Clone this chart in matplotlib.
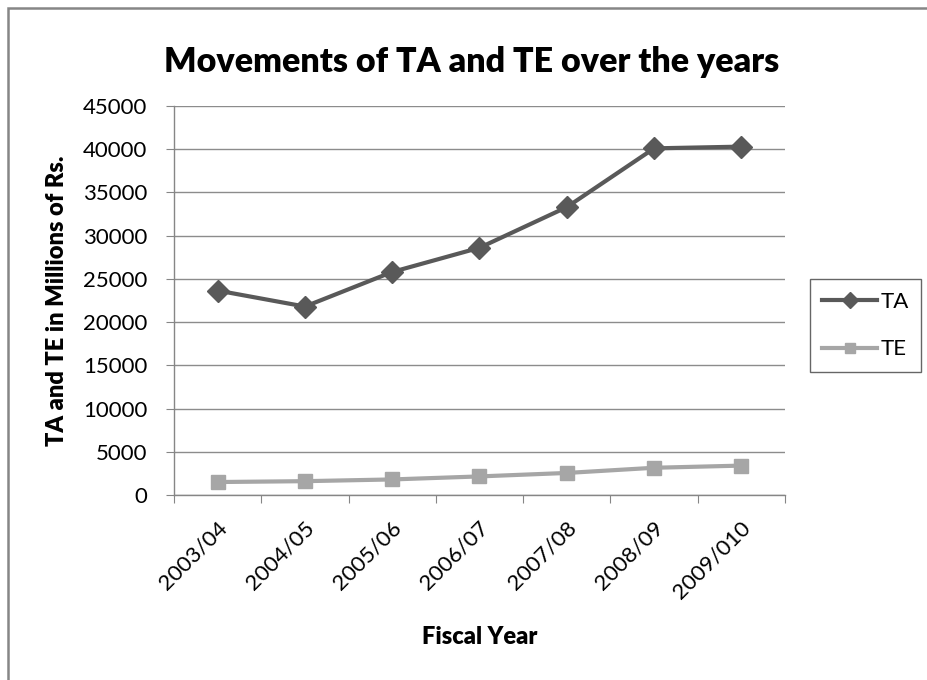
import matplotlib
matplotlib.use("Agg")
import matplotlib.pyplot as plt
from matplotlib.patches import Rectangle
from matplotlib.transforms import ScaledTranslation

# Fiscal-year totals, millions of Rs.
years = ["2003/04", "2004/05", "2005/06", "2006/07", "2007/08", "2008/09", "2009/010"]
ta_values = [23650, 21800, 25800, 28600, 33300, 40100, 40300]
te_values = [1500, 1600, 1800, 2150, 2550, 3150, 3400]
y_ticks = [0, 5000, 10000, 15000, 20000, 25000, 30000, 35000, 40000, 45000]

plt.rcParams["font.family"] = ["Lato", "DejaVu Sans"]

W, H = 928, 680
fig = plt.figure(figsize=(W / 100, H / 100), dpi=100)
fig.patch.set_facecolor("white")

# outer chart frame
fig.add_artist(Rectangle((7.5 / W, -0.05), 1.0, 1 - 7.5 / H + 0.05, transform=fig.transFigure,
                         fill=False, edgecolor="#868686", linewidth=1.8, clip_on=False))

ax = fig.add_axes([174 / W, 1 - 495 / H, (785 - 174) / W, (495 - 106) / H])

x = list(range(len(years)))
ax.plot(x, ta_values, color="#595959", linewidth=3.0, marker="D", markersize=11,
        label="TA", zorder=3)
ax.plot(x, te_values, color="#a6a6a6", linewidth=3.0, marker="s", markersize=9.5,
        label="TE", zorder=3)

ax.set_xlim(-0.5, len(years) - 0.5)
ax.set_ylim(0, 45000)
ax.set_yticks(y_ticks)
ax.set_yticklabels([str(v) for v in y_ticks], fontsize=16)
ax.yaxis.grid(True, color="#8c8c8c", linewidth=1.0)
ax.set_axisbelow(True)

# category boundary ticks on the x axis
ax.set_xticks([i - 0.5 for i in range(len(years) + 1)])
ax.set_xticklabels([])
ax.set_xticks(x, minor=True)
ax.set_xticklabels(years, minor=True, rotation=45, ha="right", rotation_mode="anchor",
                   fontsize=16)
ax.tick_params(axis="x", which="minor", length=0, pad=16)
ax.tick_params(axis="x", which="major", length=6, color="#868686", direction="out")
ax.tick_params(axis="y", length=6, color="#868686", direction="out", pad=13)
for lbl in ax.get_xticklabels(minor=True):
    lbl.set_transform(lbl.get_transform() + ScaledTranslation(-1 / 100, 0, fig.dpi_scale_trans))

for side in ("top", "right"):
    ax.spines[side].set_visible(False)
for side in ("left", "bottom"):
    ax.spines[side].set_color("#868686")
    ax.spines[side].set_linewidth(1.0)

ax.set_xlabel("Fiscal Year", fontsize=17, fontweight="heavy")
ax.xaxis.set_label_coords(0.5, (495 - 626) / 389)
ax.set_ylabel("TA and TE in Millions of Rs.", fontsize=17, fontweight="heavy")
ax.yaxis.set_label_coords((68 - 174) / 611, 0.5)
fig.text(472 / W, 1 - 62 / H, "Movements of TA and TE over the years", ha="center",
         va="center", fontsize=24.5, fontweight="heavy")

leg = fig.legend(loc="center", bbox_to_anchor=(865.5 / W, 1 - 325.5 / H), fontsize=16,
                 frameon=True, fancybox=False, handlelength=2.5, handletextpad=0.15,
                 labelspacing=1.25, borderpad=0.55, borderaxespad=0, markerscale=0.75)
leg.get_frame().set_edgecolor("#404040")
leg.get_frame().set_linewidth(1.0)

fig.savefig("out.png", dpi=100)
